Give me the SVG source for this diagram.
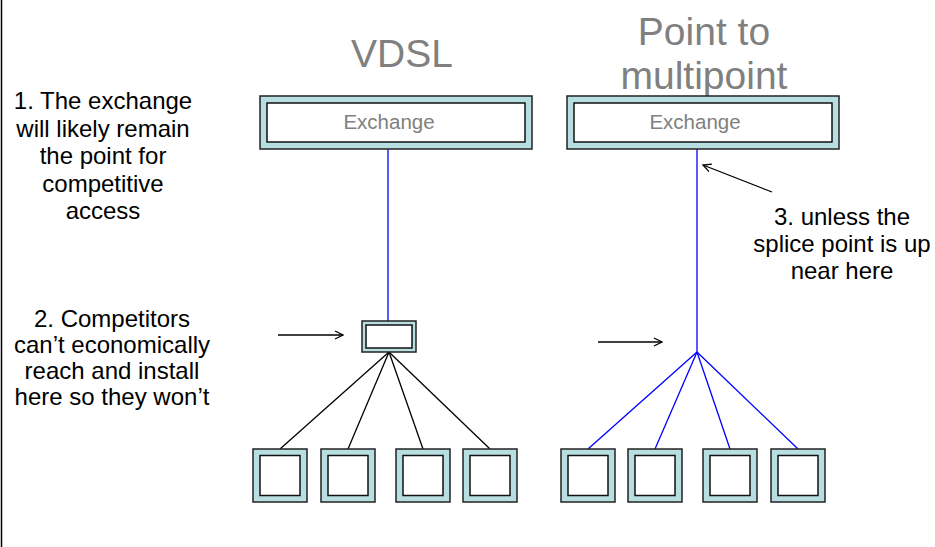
<svg xmlns="http://www.w3.org/2000/svg" width="935" height="547" viewBox="0 0 935 547">
<defs>
<style>
.t{font-family:"Liberation Sans",Arial,sans-serif;font-size:24px;fill:#000;text-anchor:middle}
.title{font-family:"Liberation Sans",Arial,sans-serif;font-size:39px;fill:#808080;text-anchor:middle}
.ex{font-family:"Liberation Sans",Arial,sans-serif;font-size:20.5px;fill:#808080;text-anchor:middle}
.outer{fill:#b7dfe2;stroke:#222;stroke-width:1.5}
.inner{fill:#fff;stroke:#111;stroke-width:1.5}
.blue{stroke:#0000ff;stroke-width:1.3;fill:none}
.blk{stroke:#000;stroke-width:1.3;fill:none}
.arr{stroke:#000;stroke-width:1.3;fill:none;marker-end:url(#ah)}
</style>
<marker id="ah" viewBox="0 0 10 10" refX="9" refY="5" markerWidth="10" markerHeight="10" markerUnits="userSpaceOnUse" orient="auto">
<path d="M1,1 L9,5 L1,9" fill="none" stroke="#000" stroke-width="1.3"/>
</marker>
</defs>
<rect width="935" height="547" fill="#fff"/>
<line x1="1.5" y1="0" x2="1.5" y2="547" stroke="#000" stroke-width="1.5"/>

<g id="titles">
<text class="title" x="402" y="67">VDSL</text>
<text class="title" x="704" y="45">Point to</text>
<text class="title" x="704" y="89">multipoint</text>
</g>

<g id="note1">
<text class="t" x="103" y="109">1. The exchange</text>
<text class="t" x="103" y="136.5">will likely remain</text>
<text class="t" x="103" y="164">the point for</text>
<text class="t" x="103" y="191.5">competitive</text>
<text class="t" x="103" y="219">access</text>
</g>
<g id="note2">
<text class="t" x="112" y="327">2. Competitors</text>
<text class="t" x="112" y="353">can’t economically</text>
<text class="t" x="112" y="379">reach and install</text>
<text class="t" x="112" y="405">here so they won’t</text>
</g>
<g id="note3">
<text class="t" x="842" y="225">3. unless the</text>
<text class="t" x="842" y="252">splice point is up</text>
<text class="t" x="842" y="279">near here</text>
</g>

<g id="connectors">
<line class="blue" x1="388" y1="149" x2="388" y2="321"/>
<line class="blk" x1="389" y1="352" x2="280" y2="449"/>
<line class="blk" x1="389" y1="352" x2="348" y2="449"/>
<line class="blk" x1="389" y1="352" x2="423" y2="449"/>
<line class="blk" x1="389" y1="352" x2="490" y2="449"/>
<line class="blue" x1="697" y1="149" x2="697" y2="352"/>
<line class="blue" x1="697" y1="352" x2="588" y2="449"/>
<line class="blue" x1="697" y1="352" x2="655" y2="449"/>
<line class="blue" x1="697" y1="352" x2="730" y2="449"/>
<line class="blue" x1="697" y1="352" x2="798" y2="449"/>
<line class="arr" x1="278" y1="335" x2="343" y2="335"/>
<line class="arr" x1="598" y1="342" x2="662" y2="342"/>
<line class="arr" x1="772" y1="192" x2="703" y2="165"/>
</g>

<g id="exchange-vdsl">
<rect class="outer" x="260" y="96" width="272" height="53"/>
<rect class="inner" x="267" y="103" width="258" height="39"/>
<text class="ex" x="389" y="129">Exchange</text>
</g>
<g id="exchange-p2mp">
<rect class="outer" x="567" y="96" width="272" height="53"/>
<rect class="inner" x="574" y="103" width="258" height="39"/>
<text class="ex" x="695" y="129">Exchange</text>
</g>
<g id="cabinet">
<rect class="outer" x="362" y="321" width="54" height="31"/>
<rect class="inner" x="366" y="325" width="46" height="23"/>
</g>

<g id="vdsl-cpe1"><rect class="outer" x="253" y="449" width="54" height="53"/><rect class="inner" x="260" y="455.5" width="40" height="40"/></g>
<g id="vdsl-cpe2"><rect class="outer" x="321" y="449" width="54" height="53"/><rect class="inner" x="328" y="455.5" width="40" height="40"/></g>
<g id="vdsl-cpe3"><rect class="outer" x="396" y="449" width="54" height="53"/><rect class="inner" x="403" y="455.5" width="40" height="40"/></g>
<g id="vdsl-cpe4"><rect class="outer" x="463" y="449" width="54" height="53"/><rect class="inner" x="470" y="455.5" width="40" height="40"/></g>

<g id="p2mp-cpe1"><rect class="outer" x="561" y="449" width="54" height="53"/><rect class="inner" x="568" y="455.5" width="40" height="40"/></g>
<g id="p2mp-cpe2"><rect class="outer" x="628" y="449" width="54" height="53"/><rect class="inner" x="635" y="455.5" width="40" height="40"/></g>
<g id="p2mp-cpe3"><rect class="outer" x="703" y="449" width="54" height="53"/><rect class="inner" x="710" y="455.5" width="40" height="40"/></g>
<g id="p2mp-cpe4"><rect class="outer" x="771" y="449" width="54" height="53"/><rect class="inner" x="778" y="455.5" width="40" height="40"/></g>
</svg>
